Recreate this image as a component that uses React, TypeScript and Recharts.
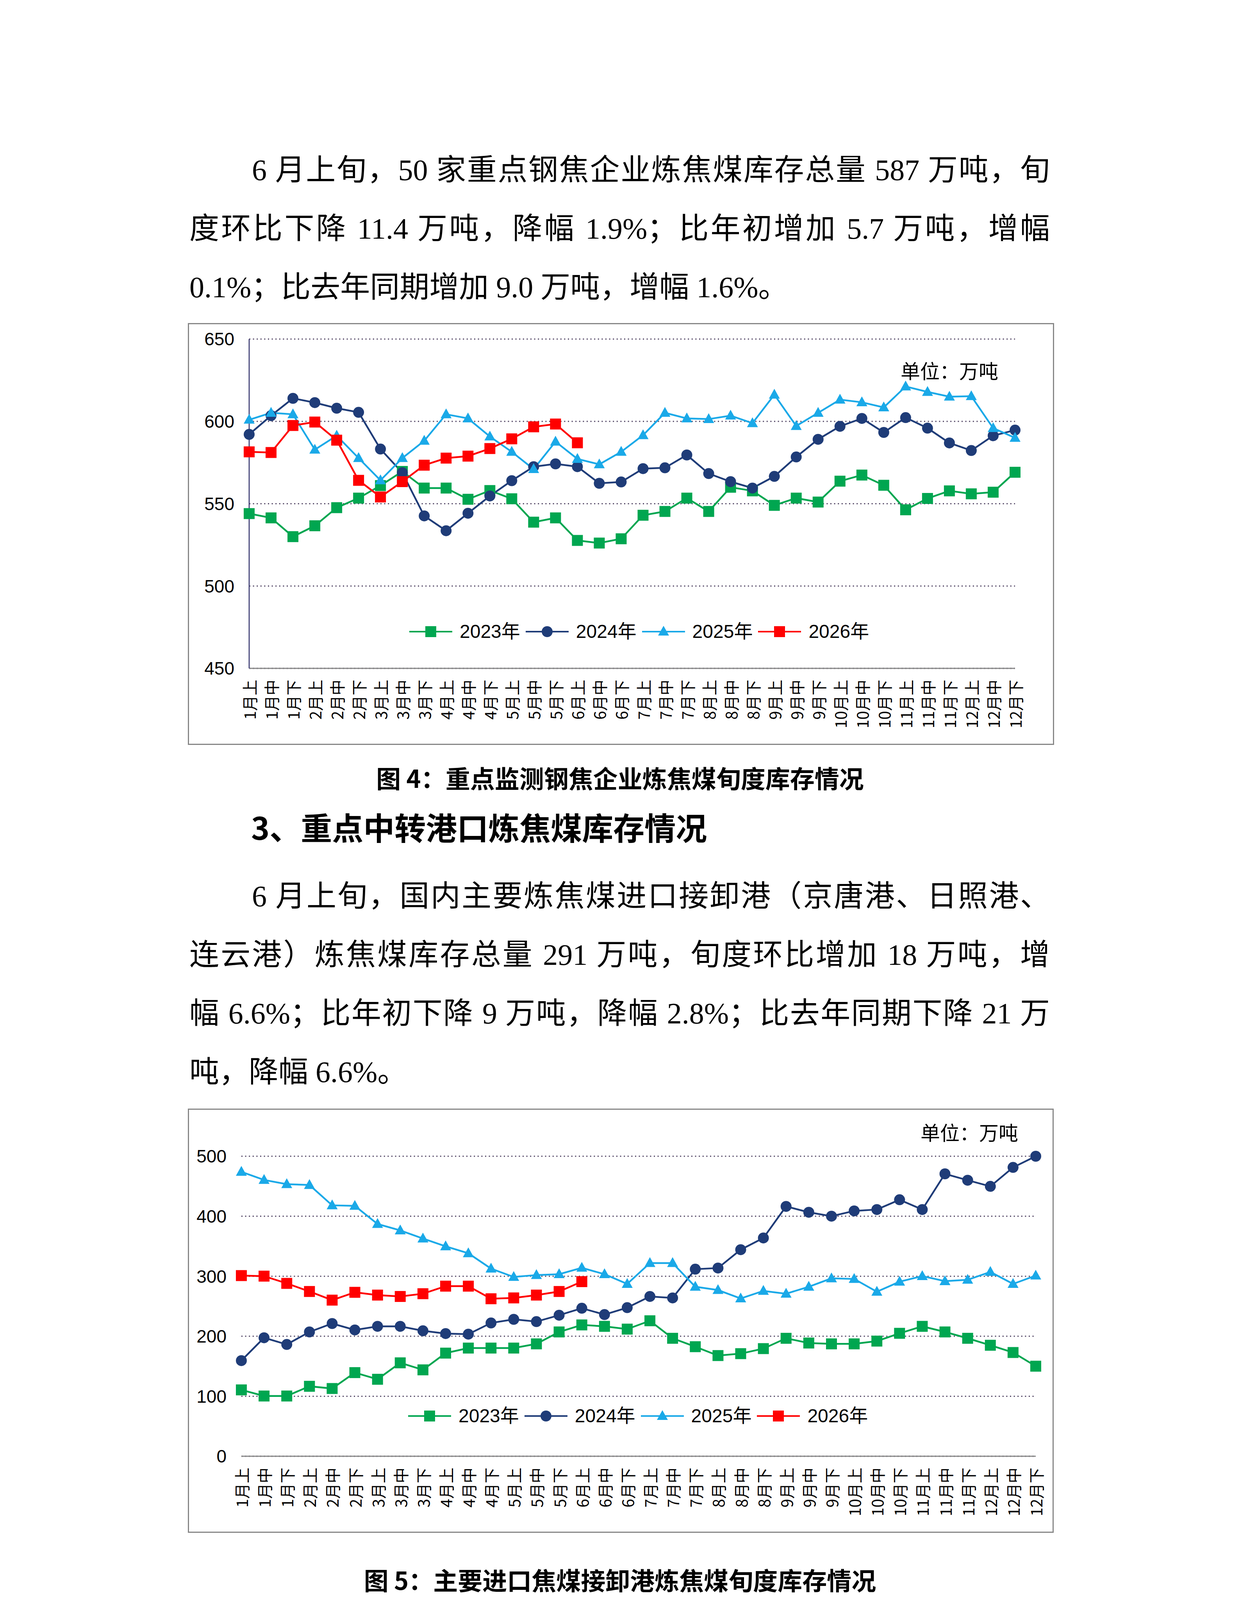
import React from "react";
import { CartesianGrid, Legend, Line, LineChart, XAxis, YAxis } from "recharts";

// ten-day periods (上/中/下旬)
const periods = [
  "1月上", "1月中", "1月下", "2月上", "2月中", "2月下",
  "3月上", "3月中", "3月下", "4月上", "4月中", "4月下",
  "5月上", "5月中", "5月下", "6月上", "6月中", "6月下",
  "7月上", "7月中", "7月下", "8月上", "8月中", "8月下",
  "9月上", "9月中", "9月下", "10月上", "10月中", "10月下",
  "11月上", "11月中", "11月下", "12月上", "12月中", "12月下"
];

// Fig 4: 50 steel/coke plants, coking coal stock (万吨)
const plant2023 = [544, 541.4, 530, 536.6, 547.6, 553.4, 561, 569.6, 559.5, 559.5, 552.7, 558, 553, 538.8, 541.4, 527.7, 526.1, 528.7, 543, 545.3, 553.4, 545.3, 560, 557.8, 549, 553.4, 551, 563.7, 567.4, 561.2, 546.3, 553.2, 557.8, 556, 557, 569.1];
const plant2024 = [592.1, 603.5, 614, 611.4, 608, 605.5, 583.2, 568.8, 542.6, 533.6, 544.2, 554.7, 564, 572.5, 574.2, 572.5, 562.4, 563.2, 571.3, 571.8, 579.6, 568.3, 563.4, 559.5, 566.6, 578.4, 589.1, 597, 601.8, 593.3, 602.3, 595.9, 586.9, 582.3, 591.3, 594.7];
const plant2025 = [601, 605.2, 604.3, 582.8, 591.3, 577.7, 564.2, 577.7, 588.2, 604.3, 601.8, 590.8, 581.5, 571, 587.7, 577.2, 573.9, 581.5, 591.6, 605.2, 601.8, 601.4, 603.5, 598.9, 616.2, 597.2, 605.2, 613.2, 611.6, 608.5, 621.2, 617.9, 615, 615.3, 595.9, 590];
const plant2026 = [581.5, 581.1, 597.5, 599.6, 588.6, 564.2, 554.1, 563.4, 573.4, 577.7, 578.9, 583.5, 589.4, 596.7, 598.4, 587];
const plantTicks = [450, 500, 550, 600, 650];

// Fig 5: main import ports, coking coal stock (万吨)
const port2023 = [110.6, 100.4, 100.4, 116.6, 112.9, 139.4, 128.3, 155.7, 144, 171.9, 180.3, 180.3, 180.3, 187.3, 207.2, 218.9, 216.5, 211.9, 225.8, 196.6, 182.6, 167.8, 171, 179.4, 196.6, 188.7, 187.3, 187.3, 191.9, 204.9, 216.5, 207.2, 196.6, 185, 172.9, 150.1];
const port2024 = [159.4, 197.5, 186.3, 207.2, 221.2, 210.5, 216.5, 216.5, 209.1, 204.5, 203.5, 222.1, 228.2, 224.4, 235.1, 246.7, 236.1, 247.7, 266.3, 263.9, 311.8, 313.7, 344.3, 363.8, 416.4, 406.6, 400.1, 408.9, 411.2, 427.5, 411.2, 470.7, 460, 449.8, 481.4, 500];
const port2025 = [474, 460.5, 453.5, 452.1, 418.2, 417.3, 387.1, 376.4, 362.9, 349.9, 338.3, 312.7, 298.8, 302, 303.4, 314.1, 303.4, 287.2, 322, 322, 282.5, 277, 263, 275.6, 270.9, 282.5, 296.5, 295.5, 274.2, 290.9, 300.2, 291.8, 294.1, 307.2, 287.2, 301.1];
const port2026 = [301.1, 300.2, 288.1, 274.6, 260.2, 273.2, 268.6, 266.3, 270.9, 283.5, 283.5, 262.5, 263.9, 268.6, 274.6, 291];
const portTicks = [0, 100, 200, 300, 400, 500];

const SERIES = [
  { key: "y2023", name: "2023年", color: "#00A650", marker: "square" },
  { key: "y2024", name: "2024年", color: "#1F3C78", marker: "circle" },
  { key: "y2025", name: "2025年", color: "#1AA9E8", marker: "triangle" },
  { key: "y2026", name: "2026年", color: "#FF0000", marker: "square" }
];

const CJK = '"Noto Sans CJK SC", sans-serif';
const BODY = '"Liberation Serif", "Noto Sans CJK SC", serif';
const NUM = '"Liberation Sans", "Noto Sans CJK SC", sans-serif';

function buildRows(a: number[], b: number[], c: number[], d: number[]) {
  return periods.map((label, i) => ({
    label,
    y2023: a[i] ?? null,
    y2024: b[i] ?? null,
    y2025: c[i] ?? null,
    y2026: d[i] ?? null
  }));
}

function Marker({ kind, cx, cy, color, size }: any) {
  const h = size / 2;
  if (kind === "square") return <rect x={cx - h} y={cy - h} width={size} height={size} fill={color} />;
  if (kind === "circle") return <circle cx={cx} cy={cy} r={h} fill={color} />;
  const t = size * 0.9;
  return (
    <polygon
      points={`${cx},${cy - t * 0.6} ${cx + h},${cy + t * 0.4} ${cx - h},${cy + t * 0.4}`}
      fill={color}
    />
  );
}

function PeriodTick({ x, y, payload }: any) {
  return (
    <text
      transform={`translate(${x},${y}) rotate(-90)`}
      textAnchor="end"
      dominantBaseline="central"
      fontSize={40}
      fontFamily={CJK}
      fill="#000"
    >
      {payload.value}
    </text>
  );
}

function LegendRow({ payload }: any) {
  return (
    <div style={{ display: "flex", alignItems: "center", fontFamily: NUM, fontSize: 48, color: "#000" }}>
      {(payload || []).map((item: any) => {
        const s = SERIES.find((q) => q.key === item.dataKey) || SERIES[0];
        return (
          <div key={s.key} style={{ display: "flex", alignItems: "center", marginRight: 14 }}>
            <svg width={110} height={40}>
              <line x1={0} y1={20} x2={110} y2={20} stroke={s.color} strokeWidth={4} />
              <Marker kind={s.marker} cx={55} cy={20} color={s.color} size={28} />
            </svg>
            <span style={{ marginLeft: 19, lineHeight: "56px" }}>{s.name}</span>
          </div>
        );
      })}
    </div>
  );
}

type ChartProps = {
  left: number;
  top: number;
  width: number;
  height: number;
  rows: any[];
  ticks: number[];
  marginTop: number;
  marginRight: number;
  yAxisWidth: number;
  yAxisLine: boolean;
  legendLeft: number;
  legendTop: number;
  unitLeft: number;
  unitTop: number;
};

function StockChart(p: ChartProps) {
  const domain = [p.ticks[0], p.ticks[p.ticks.length - 1]];
  return (
    <>
      <div style={{ position: "absolute", left: p.left, top: p.top, width: p.width, height: p.height }}>
        <LineChart
          width={p.width}
          height={p.height}
          data={p.rows}
          margin={{ top: p.marginTop, right: p.marginRight, bottom: 0, left: 0 }}
        >
          <CartesianGrid vertical={false} stroke="#524564" strokeWidth={3} strokeDasharray="3 6.6" />
          <XAxis
            dataKey="label"
            scale="point"
            padding={{ left: 0, right: 0 }}
            interval={0}
            height={196}
            tickLine={false}
            tickSize={0}
            tickMargin={29}
            axisLine={{ stroke: "#878787", strokeWidth: 3 }}
            tick={<PeriodTick />}
          />
          <YAxis
            domain={domain}
            ticks={p.ticks}
            width={p.yAxisWidth}
            tickLine={false}
            tickSize={0}
            tickMargin={38}
            axisLine={p.yAxisLine ? { stroke: "#4A4A7E", strokeWidth: 3 } : false}
            tick={{ fontSize: 46, fill: "#000", fontFamily: NUM }}
          />
          <Legend
            verticalAlign="middle"
            align="center"
            content={<LegendRow />}
            wrapperStyle={{ left: p.legendLeft, top: p.legendTop, width: 1300, height: 60 }}
          />
          {SERIES.map((s) => (
            <Line
              key={s.key}
              dataKey={s.key}
              name={s.name}
              type="linear"
              stroke={s.color}
              strokeWidth={4.5}
              isAnimationActive={false}
              activeDot={false}
              dot={(d: any) =>
                d.value == null || d.cy == null ? (
                  <g key={`${s.key}-${d.index}`} />
                ) : (
                  <Marker
                    key={`${s.key}-${d.index}`}
                    kind={s.marker}
                    cx={d.cx}
                    cy={d.cy}
                    color={s.color}
                    size={28}
                  />
                )
              }
            />
          ))}
        </LineChart>
      </div>
      <div
        style={{
          position: "absolute",
          left: p.left,
          top: p.top,
          width: p.width,
          height: p.height,
          boxSizing: "border-box",
          border: "3px solid #878787",
          pointerEvents: "none"
        }}
      />
      <div
        style={{
          position: "absolute",
          left: p.unitLeft,
          top: p.unitTop,
          fontFamily: CJK,
          fontSize: 50,
          lineHeight: "60px",
          whiteSpace: "nowrap"
        }}
      >
        单位：万吨
      </div>
    </>
  );
}

function TextLine({ top, text, indent = 0, justify = true }: any) {
  return (
    <div
      style={{
        position: "absolute",
        left: 485,
        top,
        width: 2203,
        paddingLeft: indent,
        boxSizing: "border-box",
        fontFamily: BODY,
        fontSize: 76,
        lineHeight: "150px",
        textAlign: justify ? "justify" : "left",
        textAlignLast: justify ? "justify" : "left",
        color: "#000"
      }}
    >
      {text}
    </div>
  );
}

function Caption({ top, text }: any) {
  return (
    <div
      style={{
        position: "absolute",
        left: 0,
        top,
        width: 3175,
        textAlign: "center",
        fontFamily: CJK,
        fontWeight: 700,
        fontSize: 63,
        lineHeight: "80px",
        whiteSpace: "nowrap"
      }}
    >
      {text}
    </div>
  );
}

export default function App() {
  const plantRows = buildRows(plant2023, plant2024, plant2025, plant2026);
  const portRows = buildRows(port2023, port2024, port2025, port2026);
  return (
    <div
      lang="zh-CN"
      style={{ position: "absolute", left: 0, top: 0, width: 3175, height: 4490, background: "#fff", overflow: "hidden" }}
    >
      <TextLine top={360} indent={160} text="6 月上旬，50 家重点钢焦企业炼焦煤库存总量 587 万吨，旬" />
      <TextLine top={510} text="度环比下降 11.4 万吨，降幅 1.9%；比年初增加 5.7 万吨，增幅" />
      <TextLine top={660} justify={false} text="0.1%；比去年同期增加 9.0 万吨，增幅 1.6%。" />

      <StockChart
        left={481}
        top={827}
        width={2218}
        height={1080}
        rows={plantRows}
        ticks={plantTicks}
        marginTop={41}
        marginRight={100}
        yAxisWidth={157}
        yAxisLine={true}
        legendLeft={567}
        legendTop={762}
        unitLeft={2306}
        unitTop={917}
      />
      <Caption top={1950} text="图 4：重点监测钢焦企业炼焦煤旬度库存情况" />

      <div
        style={{
          position: "absolute",
          left: 643,
          top: 2065,
          fontFamily: CJK,
          fontWeight: 700,
          fontSize: 80,
          lineHeight: "100px",
          whiteSpace: "nowrap"
        }}
      >
        3、重点中转港口炼焦煤库存情况
      </div>

      <TextLine top={2219} indent={160} text="6 月上旬，国内主要炼焦煤进口接卸港（京唐港、日照港、" />
      <TextLine top={2369} text="连云港）炼焦煤库存总量 291 万吨，旬度环比增加 18 万吨，增" />
      <TextLine top={2519} text="幅 6.6%；比年初下降 9 万吨，降幅 2.8%；比去年同期下降 21 万" />
      <TextLine top={2669} justify={false} text="吨，降幅 6.6%。" />

      <StockChart
        left={481}
        top={2838}
        width={2217}
        height={1086}
        rows={portRows}
        ticks={portTicks}
        marginTop={122}
        marginRight={46}
        yAxisWidth={137}
        yAxisLine={false}
        legendLeft={564}
        legendTop={759}
        unitLeft={2357}
        unitTop={2867}
      />
      <Caption top={4003} text="图 5：主要进口焦煤接卸港炼焦煤旬度库存情况" />
    </div>
  );
}
